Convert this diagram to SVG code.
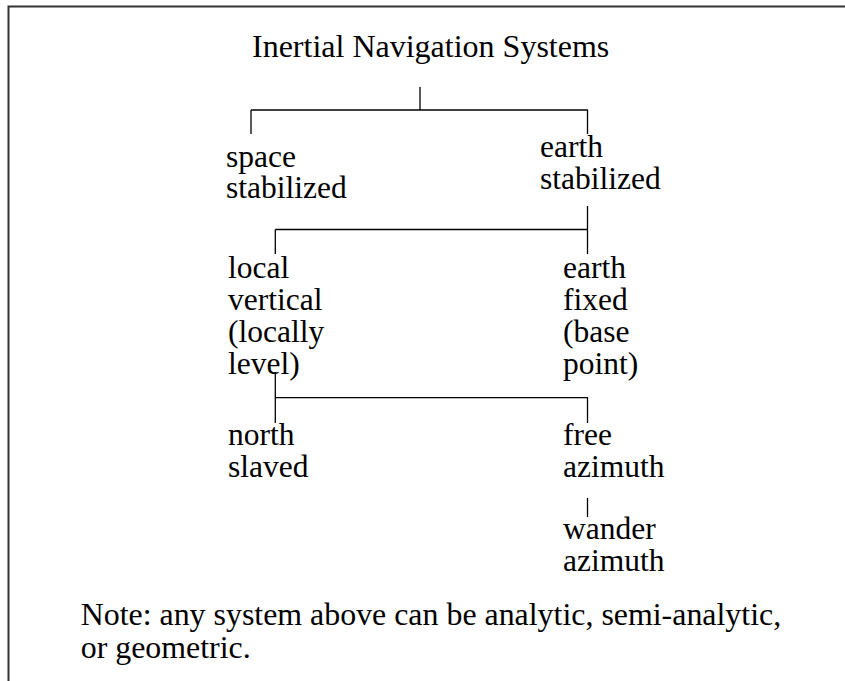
<svg xmlns="http://www.w3.org/2000/svg" width="845" height="681" viewBox="0 0 845 681">
<style>
text { font-family: "Liberation Serif", "Times New Roman", serif; font-size: 31.5px; fill: #000; }
.title { font-size: 32px; }
.note { font-size: 31.9px; }
.conn line { stroke: #000; stroke-width: 1.3; }
.frame { stroke: #333; stroke-width: 2; fill: none; }
</style>
<rect width="845" height="681" fill="#fff"/>
<path class="frame" d="M8.5,681 V6.5 H845"/>
<g class="conn">
<line x1="420" y1="87" x2="420" y2="110"/>
<line x1="251" y1="110" x2="588" y2="110"/>
<line x1="251" y1="110" x2="251" y2="134"/>
<line x1="587.5" y1="110" x2="587.5" y2="134"/>
<line x1="587.5" y1="206" x2="587.5" y2="254"/>
<line x1="275.3" y1="229.5" x2="588" y2="229.5"/>
<line x1="275.3" y1="229.5" x2="275.3" y2="254"/>
<line x1="275.3" y1="372" x2="275.3" y2="423"/>
<line x1="275.3" y1="397.7" x2="588" y2="397.7"/>
<line x1="587.5" y1="397.7" x2="587.5" y2="423"/>
<line x1="587.5" y1="498" x2="587.5" y2="517"/>
</g>
<g id="root"><text class="title" x="252" y="57">Inertial Navigation Systems</text></g>
<g id="space"><text x="226" y="166.7">space</text><text x="226" y="198.3">stabilized</text></g>
<g id="earth"><text x="540" y="157">earth</text><text x="540" y="189">stabilized</text></g>
<g id="localvertical"><text x="228" y="278.3">local</text><text x="228" y="310">vertical</text><text x="228" y="342">(locally</text><text x="228" y="374">level)</text></g>
<g id="earthfixed"><text x="563" y="278.3">earth</text><text x="563" y="310">fixed</text><text x="563" y="342">(base</text><text x="563" y="374">point)</text></g>
<g id="north"><text x="228" y="445">north</text><text x="228" y="476.7">slaved</text></g>
<g id="free"><text x="563" y="445">free</text><text x="563" y="476.7">azimuth</text></g>
<g id="wander"><text x="563" y="539">wander</text><text x="563" y="570.7">azimuth</text></g>
<g id="note"><text class="note" x="80.7" y="625">Note: any system above can be analytic, semi-analytic,</text><text class="note" x="80.7" y="657.7">or geometric.</text></g>
</svg>
